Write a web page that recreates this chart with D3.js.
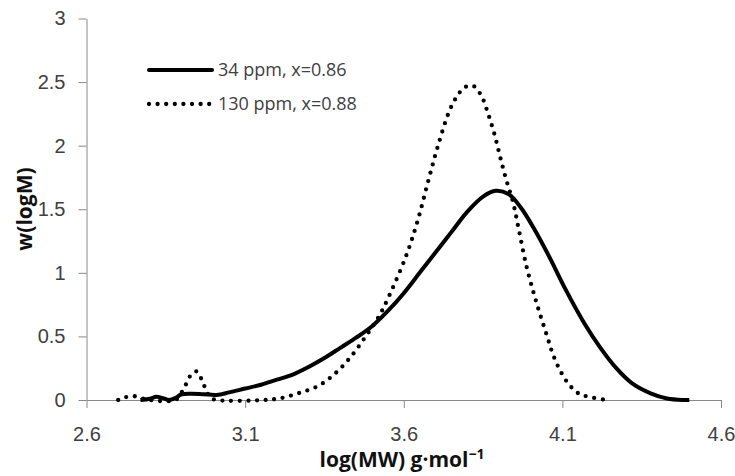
<!DOCTYPE html>
<html>
<head>
<meta charset="utf-8">
<script src="https://cdn.jsdelivr.net/npm/d3@7"></script>
<style>
  body { margin: 0; background: #fff; }
  svg { font-family: "Open Sans", "Noto Sans", sans-serif; }
</style>
</head>
<body>
<div id="chart"></div>
<script>
// series names
var seriesNames = ["34 ppm, x=0.86", "130 ppm, x=0.88"];

// 34 ppm: [logM, w]
var series34 = [
    [2.77,0],[2.80,0.01],[2.82,0.025],[2.84,0.015],[2.86,0.0],[2.88,0.015],[2.90,0.045],
    [2.93,0.05],[2.97,0.045],[3.01,0.04],[3.05,0.06],[3.10,0.09],[3.15,0.12],[3.20,0.16],
    [3.25,0.2],[3.30,0.26],[3.35,0.33],[3.40,0.41],[3.45,0.49],[3.50,0.58],[3.55,0.70],
    [3.60,0.84],[3.65,1.0],[3.70,1.16],[3.75,1.32],[3.80,1.48],[3.85,1.60],[3.89,1.645],
    [3.93,1.62],[3.97,1.51],[4.01,1.35],[4.06,1.12],[4.11,0.87],[4.17,0.60],[4.22,0.41],
    [4.27,0.25],[4.32,0.13],[4.38,0.05],[4.43,0.012],[4.48,0.0],[4.50,0]
];

// 130 ppm: [logM, w]
var series130 = [
    [2.70,0],[2.72,0.02],[2.75,0.03],[2.78,0.01],[2.80,0],[2.88,0],[2.90,0.06],[2.915,0.13],
    [2.93,0.20],[2.947,0.225],[2.963,0.16],[2.975,0.09],[2.99,0.02],[3.01,0],[3.16,0],
    [3.21,0.013],[3.27,0.055],[3.33,0.11],[3.38,0.2],[3.43,0.33],[3.48,0.5],[3.52,0.65],
    [3.556,0.83],[3.61,1.15],[3.645,1.42],[3.677,1.72],[3.708,2.0],[3.745,2.28],[3.771,2.40],
    [3.793,2.46],[3.819,2.47],[3.845,2.39],[3.866,2.25],[3.887,2.08],[3.903,1.92],[3.922,1.74],
    [3.945,1.55],[3.961,1.36],[3.987,1.05],[4.019,0.76],[4.052,0.50],[4.071,0.354],
    [4.092,0.236],[4.118,0.131],[4.15,0.053],[4.181,0.026],[4.24,0]
];

var xTicks = [2.6, 3.1, 3.6, 4.1, 4.6];
var yTicks = [0, 0.5, 1, 1.5, 2, 2.5, 3];

var W = 735, H = 476;
var margin = {top: 18.5, right: 14, bottom: 76, left: 86.5};

var svg = d3.select("#chart").append("svg")
    .attr("width", W)
    .attr("height", H);

var x = d3.scaleLinear().domain([2.6, 4.6]).range([margin.left, W - margin.right]);
var y = d3.scaleLinear().domain([0, 3]).range([H - margin.bottom, margin.top]);

// x axis
var xAxis = svg.append("g")
    .attr("transform", "translate(0," + y(0) + ")")
    .call(d3.axisBottom(x).tickValues(xTicks).tickSize(8).tickSizeOuter(0).tickPadding(19)
        .tickFormat(d3.format(".1f")));

// y axis
var yAxis = svg.append("g")
    .attr("transform", "translate(" + x(2.6) + ",0)")
    .call(d3.axisLeft(y).tickValues(yTicks).tickSize(8).tickSizeOuter(0).tickPadding(13)
        .tickFormat(function(d) { return d; }));

[xAxis, yAxis].forEach(function(a) {
    a.select(".domain").attr("stroke", "#888");
    a.selectAll(".tick line").attr("stroke", "#888");
    a.selectAll(".tick text")
        .attr("fill", "#404040")
        .style("font-size", "20px");
});

// lines
var line = d3.line()
    .x(function(d) { return x(d[0]); })
    .y(function(d) { return y(d[1]); })
    .curve(d3.curveCatmullRom.alpha(0.5));

svg.append("path")
    .datum(series34)
    .attr("d", line)
    .attr("fill", "none")
    .attr("stroke", "#000")
    .attr("stroke-width", 4)
    .attr("stroke-linejoin", "round");

svg.append("path")
    .datum(series130)
    .attr("d", line)
    .attr("fill", "none")
    .attr("stroke", "#000")
    .attr("stroke-width", 4.3)
    .attr("stroke-linecap", "round")
    .attr("stroke-dasharray", "0,8.6");

// legend
var legend = svg.append("g");
var legendY = [70, 104];
seriesNames.forEach(function(name, i) {
    var l = legend.append("line")
        .attr("x1", 149).attr("x2", 212)
        .attr("y1", legendY[i]).attr("y2", legendY[i])
        .attr("stroke", "#000");
    if (i == 0) {
        l.attr("stroke-width", 4).attr("stroke-linecap", "round");
    } else {
        l.attr("stroke-width", 4.3).attr("stroke-linecap", "round").attr("stroke-dasharray", "0,8.6");
    }
    legend.append("text")
        .attr("x", 218)
        .attr("y", legendY[i] + 6)
        .attr("fill", "#404040")
        .style("font-size", "18px")
        .text(name);
});

// axis titles
svg.append("text")
    .attr("transform", "translate(32," + 209 + ") rotate(-90)")
    .attr("text-anchor", "middle")
    .style("font-size", "21px")
    .style("font-weight", "bold")
    .attr("fill", "#111")
    .text("w(logM)");

var xt = svg.append("text")
    .attr("x", 402)
    .attr("y", 467)
    .attr("text-anchor", "middle")
    .style("font-size", "21px")
    .style("font-weight", "bold")
    .attr("fill", "#111");
xt.append("tspan").text("log(MW) g·mol");
xt.append("tspan").attr("dy", -8).style("font-size", "14px").text("−1");
</script>
</body>
</html>
